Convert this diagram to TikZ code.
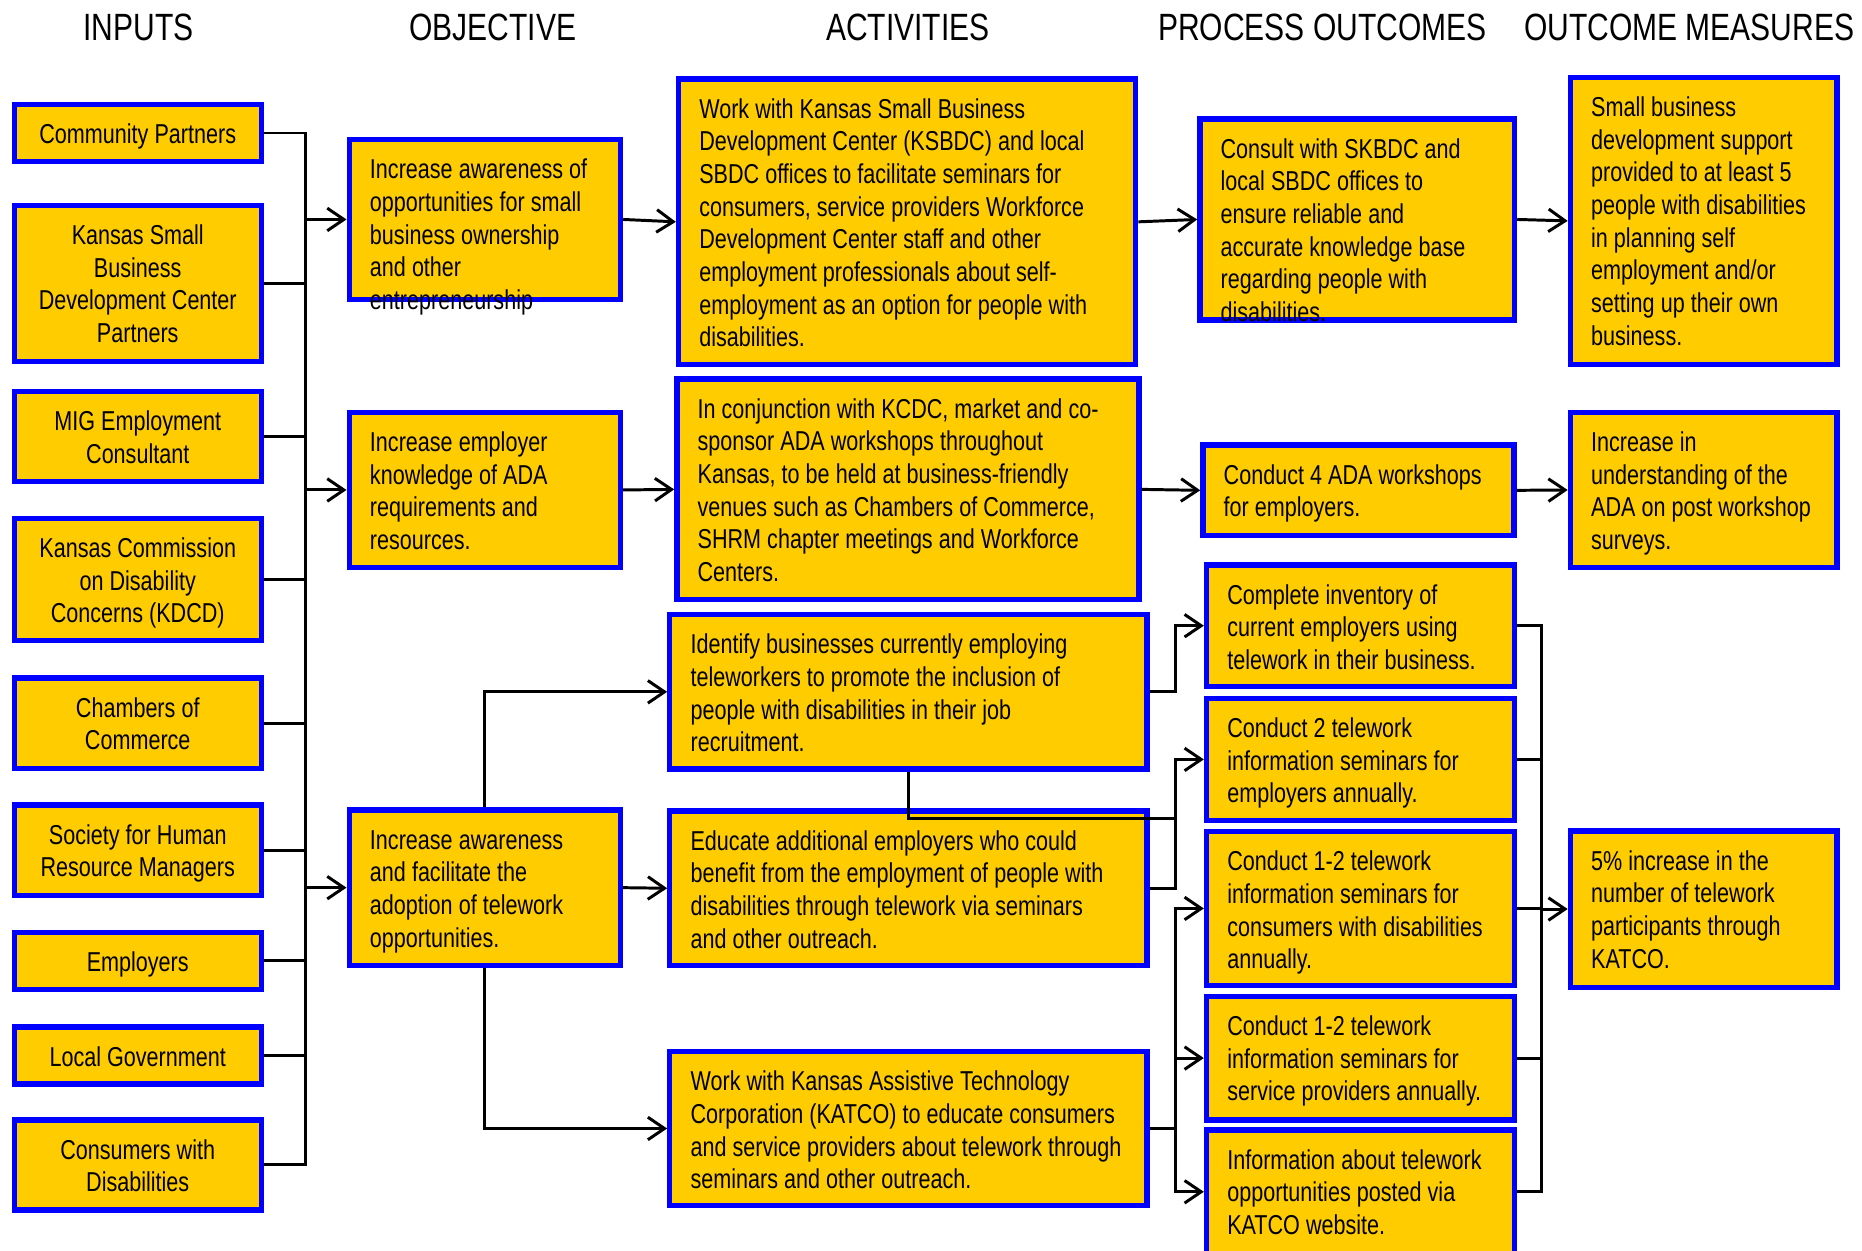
\documentclass[tikz,border=0pt]{standalone}
\usepackage{fontspec}
\usetikzlibrary{arrows.meta}
\newfontfamily\narrowfont{Liberation Sans}[FakeStretch=0.79]
\definecolor{boxgold}{HTML}{FFCC00}
\definecolor{boxblue}{HTML}{0000FF}

\begin{document}
\begin{tikzpicture}[x=1pt, y=-1pt]

\def\boxinset{17.5}
\def\firstbase{33}
\tikzset{logic box/.style={
    rectangle,
    draw=boxblue,
    fill=boxgold,
    line width=4.5pt,
    inner xsep=\boxinset pt,
    inner ysep=0pt,
    font={\narrowfont\fontsize{23}{27.5}\selectfont},
    execute at begin node={\frenchspacing\spaceskip=5.1pt\relax
        \rightskip=0pt plus 1fil minus 200pt\relax}
}, input box/.style={
    logic box,
    align=flush center
}, box size/.code 2 args={%
    \pgfmathsetmacro\boxtw{#1-2*\boxinset}%
    \pgfmathsetmacro\boxtd{#2-\firstbase}%
    \pgfkeysalso{minimum width=#1pt, text width=\boxtw pt,
        text height=\firstbase pt, text depth=\boxtd pt}%
}, column head/.style={
    anchor=base,
    font=\narrowfont\fontsize{32}{38}\selectfont
}, link/.style={
    line width=2.5pt
}, arrow link/.style={
    link, -{Straight Barb[length=14pt,width=19pt]}
}};

\useasboundingbox (0,0) rectangle (1568,1053);

% column heads
\node[column head] (hdInputs) at (116.5,33.7) {INPUTS};
\node[column head] (hdObjective) at (415,33.7) {OBJECTIVE};
\node[column head] (hdActivities) at (764.5,33.7) {ACTIVITIES};
\node[column head] (hdProcess) at (1113.5,33.7) {PROCESS OUTCOMES};
\node[column head] (hdMeasures) at (1422.5,33.7) {OUTCOME MEASURES};

% inputs
\foreach \ypos/\hgt/\txt [count=\i] in {
    112/48/{Community Partners},
    238.75/131.5/{Kansas Small\\Business\\Development Center\\Partners},
    367.6/76/{MIG Employment\\Consultant},
    488/103/{Kansas Commission\\on Disability\\Concerns (KDCD)},
    609/76/{Chambers of\\Commerce},
    716/76/{Society for Human\\Resource Managers},
    809/48/{Employers},
    888.8/48/{Local Government},
    981/76/{Consumers with\\Disabilities}} {
    \node[input box, box size={208}{\hgt}] (in\i) at (116,\ypos) {\txt};
}

% objectives
\node[logic box, box size={228.5}{134.4}] (obj1) at (408.3,184.8)
    {Increase awareness of\\opportunities for small\\business ownership\\and other\\entrepreneurship};
\node[logic box, box size={228.5}{130.7}] (obj2) at (408.3,412.6)
    {Increase employer\\knowledge of ADA\\requirements and\\resources.};
\node[logic box, box size={228.5}{131}] (obj3) at (408.3,747.5)
    {Increase awareness\\and facilitate the\\adoption of telework\\opportunities.};

% activities
\node[logic box, box size={385}{240.4}] (act1) at (763.9,186.8)
    {Work with Kansas Small Business\\Development Center (KSBDC) and local\\SBDC offices to facilitate seminars for\\consumers, service providers Workforce\\Development Center staff and other\\employment professionals about self-\\employment as an option for people with\\disabilities.};
\node[logic box, box size={389}{185.8}] (act2) at (764.5,412.1)
    {In conjunction with KCDC, market and co-\\sponsor ADA workshops throughout\\Kansas, to be held at business-friendly\\venues such as Chambers of Commerce,\\SHRM chapter meetings and Workforce\\Centers.};
\node[logic box, box size={401.7}{130}] (act3) at (764.9,582.6)
    {Identify businesses currently employing\\teleworkers to promote the inclusion of\\people with disabilities in their job\\recruitment.};
\node[logic box, box size={401.7}{130}] (act4) at (764.9,748)
    {Educate additional employers who could\\benefit from the employment of people with\\disabilities through telework via seminars\\and other outreach.};
\node[logic box, box size={401.7}{129.4}] (act5) at (764.9,950.3)
    {Work with Kansas Assistive Technology\\Corporation (KATCO) to educate consumers\\and service providers about telework through\\seminars and other outreach.};

% process outcomes
\node[logic box, box size={265}{169.2}] (po1) at (1142.9,184.8)
    {Consult with SKBDC and\\local SBDC offices to\\ensure reliable and\\accurate knowledge base\\regarding people with\\disabilities.};
\node[logic box, box size={262}{76.2}] (po2) at (1144,412.9)
    {Conduct 4 ADA workshops\\for employers.};
\node[logic box, box size={259.6}{102.2}] (po3) at (1145.8,526.9)
    {Complete inventory of\\current employers using\\telework in their business.};
\node[logic box, box size={259.6}{103}] (po4) at (1145.8,639.5)
    {Conduct 2 telework\\information seminars for\\employers annually.};
\node[logic box, box size={259.6}{129.5}] (po5) at (1145.8,765)
    {Conduct 1-2 telework\\information seminars for\\consumers with disabilities\\annually.};
\node[logic box, box size={259.6}{104}] (po6) at (1145.8,891)
    {Conduct 1-2 telework\\information seminars for\\service providers annually.};
\node[logic box, box size={259.6}{104}] (po7) at (1145.8,1003.6)
    {Information about telework\\opportunities posted via\\KATCO website.};

% outcome measures
\node[logic box, box size={224.6}{241.6}] (om1) at (1434.7,186)
    {Small business\\development support\\provided to at least 5\\people with disabilities\\in planning self\\employment and/or\\setting up their own\\business.};
\node[logic box, box size={224.6}{130.7}] (om2) at (1434.7,412.6)
    {Increase in\\understanding of the\\ADA on post workshop\\surveys.};
\node[logic box, box size={224.6}{131.7}] (om3) at (1434.7,765.5)
    {5\% increase in the\\number of telework\\participants through\\KATCO.};

% bus lines
\coordinate (inbus) at (257.5,0);
\coordinate (midbus) at (990,0);
\coordinate (outbus) at (1298,0);
\coordinate (dropjoin) at (990,689.5);

\draw[link] (in1.east) -| (inbus |- in9.east) -- (in9.east);
\foreach \i in {2,...,8} {
    \draw[link] (in\i.east) -- (inbus |- in\i.east);
}
\foreach \k in {1,2,3} {
    \draw[arrow link] (inbus |- obj\k.west) -- (obj\k.west);
}

\draw[arrow link] (obj1.east) -- (act1.west);
\draw[arrow link] (obj2.east) -- (act2.west);
\draw[arrow link] (obj3.east) -- (act4.west);
\draw[arrow link] (obj3.north) |- (act3.west);
\draw[arrow link] (obj3.south) |- (act5.west);

\draw[arrow link] (act1.east) -- (po1.west);
\draw[arrow link] (act2.east) -- (po2.west);
\draw[arrow link] (po1.east) -- (om1.west);
\draw[arrow link] (po2.east) -- (om2.west);

\draw[arrow link] (act3.east) -| (midbus |- po3.west) -- (po3.west);
\draw[arrow link] (act4.east) -| (midbus |- po4.west) -- (po4.west);
\draw[link] (act3.south) |- (dropjoin);
\draw[arrow link] (act5.east) -| (midbus |- po5.west) -- (po5.west);
\draw[arrow link] (act5.east -| midbus) |- (po7.west);
\draw[arrow link] (midbus |- po6.west) -- (po6.west);

\draw[link] (po3.east) -| (outbus |- po7.east) -- (po7.east);
\foreach \k in {4,5,6} {
    \draw[link] (po\k.east) -- (outbus |- po\k.east);
}
\draw[arrow link] (outbus |- om3.west) -- (om3.west);
\end{tikzpicture}
\end{document}
